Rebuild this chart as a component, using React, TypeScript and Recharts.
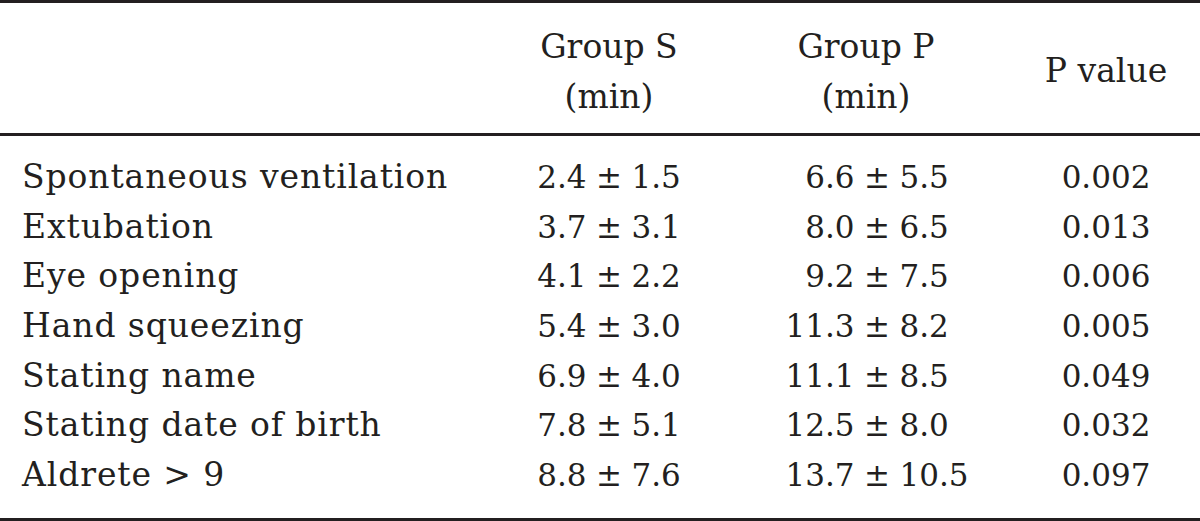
import React from 'react';
import { ScatterChart, Scatter, XAxis, YAxis, Customized } from 'recharts';

// ---- data ----
const rowLabels = [
  'Spontaneous ventilation',
  'Extubation',
  'Eye opening',
  'Hand squeezing',
  'Stating name',
  'Stating date of birth',
  'Aldrete > 9',
];
const groupSMean = [2.4, 3.7, 4.1, 5.4, 6.9, 7.8, 8.8];
const groupSSD = [1.5, 3.1, 2.2, 3.0, 4.0, 5.1, 7.6];
const groupPMean = [6.6, 8.0, 9.2, 11.3, 11.1, 12.5, 13.7];
const groupPSD = [5.5, 6.5, 7.5, 8.2, 8.5, 8.0, 10.5];
const pValues = [0.002, 0.013, 0.006, 0.005, 0.049, 0.032, 0.097];
const headerLines = [
  ['Group S', '(min)'],
  ['Group P', '(min)'],
  ['P value'],
];

// ---- layout ----
const W = 1200;
const H = 521;
const INK = '#231f20';
const FONT = '"DejaVu Serif", serif';
const COL = { label: 22, S: 609, P: 877, pv: 1106 };
const HEADER_X = [609, 866, 1106];
const PM_OFFSET = 22.5;

const labelData = rowLabels.map((r) => ({ x: COL.label, row: r, text: r }));
const sData = rowLabels.map((r, i) => ({ x: COL.S, row: r, mean: groupSMean[i], sd: groupSSD[i] }));
const pData = rowLabels.map((r, i) => ({ x: COL.P, row: r, mean: groupPMean[i], sd: groupPSD[i] }));
const pvData = rowLabels.map((r, i) => ({ x: COL.pv, row: r, text: pValues[i].toFixed(3) }));

const LabelShape = (props: any) => (
  <text x={props.cx} y={props.cy + 11} textAnchor="start" fontFamily={FONT} fontSize={33}
    letterSpacing={0.9} fill={INK}>
    {props.payload.text}
  </text>
);

const MeanSdShape = (props: any) => {
  const { cx, cy, payload } = props;
  const common = { fontFamily: FONT, fontSize: 31, fill: INK, y: cy + 11 };
  return (
    <g>
      <text {...common} x={cx - PM_OFFSET} textAnchor="end">{payload.mean.toFixed(1)}</text>
      <text {...common} x={cx} textAnchor="middle">±</text>
      <text {...common} x={cx + PM_OFFSET} textAnchor="start">{payload.sd.toFixed(1)}</text>
    </g>
  );
};

const PvShape = (props: any) => (
  <text x={props.cx} y={props.cy + 11} textAnchor="middle" fontFamily={FONT} fontSize={31} fill={INK}>
    {props.payload.text}
  </text>
);

const HeaderTick = (props: any) => {
  const idx = HEADER_X.indexOf(props.payload.value);
  const lines = headerLines[idx] || [];
  const baselines = lines.length === 1 ? [82] : [58, 108];
  return (
    <g>
      {lines.map((t, i) => (
        <text key={i} x={props.x} y={baselines[i]} textAnchor="middle" fontFamily={FONT}
          fontSize={33} fill={INK}>
          {t}
        </text>
      ))}
    </g>
  );
};

const Rules = () => (
  <g>
    <line x1={0} x2={W} y1={1.5} y2={1.5} stroke={INK} strokeWidth={3} />
    <line x1={0} x2={W} y1={134.5} y2={134.5} stroke={INK} strokeWidth={3} />
    <line x1={0} x2={W} y1={519.5} y2={519.5} stroke={INK} strokeWidth={3} />
  </g>
);

export default function App() {
  return (
    <div style={{ position: 'absolute', left: 0, top: 0, width: W, height: H, background: '#fff' }}>
      <ScatterChart width={W} height={H} margin={{ top: 122, right: 0, bottom: 21, left: 0 }}>
        <XAxis
          type="number"
          dataKey="x"
          domain={[0, W]}
          orientation="top"
          height={30}
          ticks={HEADER_X}
          axisLine={false}
          tickLine={false}
          tick={<HeaderTick />}
          interval={0}
        />
        <YAxis type="category" dataKey="row" hide reversed allowDuplicatedCategory={false} width={0} />
        <Scatter data={labelData} shape={<LabelShape />} isAnimationActive={false} />
        <Scatter data={sData} shape={<MeanSdShape />} isAnimationActive={false} />
        <Scatter data={pData} shape={<MeanSdShape />} isAnimationActive={false} />
        <Scatter data={pvData} shape={<PvShape />} isAnimationActive={false} />
        <Customized component={<Rules />} />
      </ScatterChart>
    </div>
  );
}
